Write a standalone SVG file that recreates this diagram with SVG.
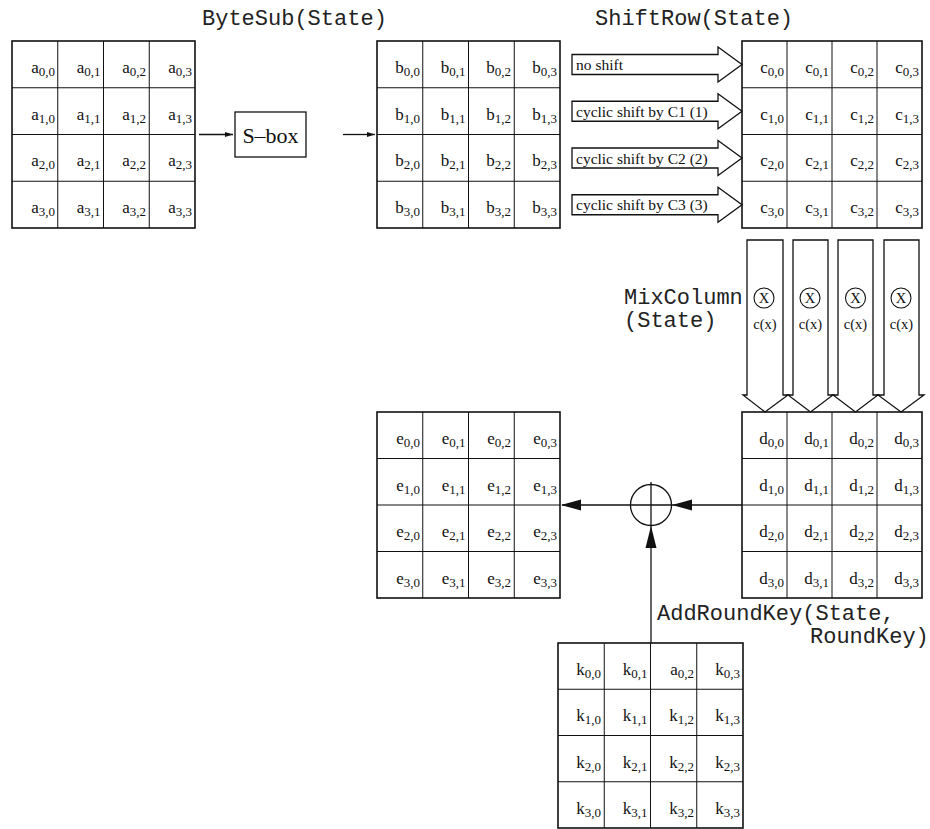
<svg xmlns="http://www.w3.org/2000/svg" width="930" height="829" viewBox="0 0 930 829">
<defs>
<style>
.c{font-family:"Liberation Serif","Times New Roman",serif;font-size:17px;text-anchor:end;fill:#111}
.s{font-size:13px}
.mono{font-family:"Liberation Mono","Courier New",monospace;font-size:22px;fill:#222}
.lbl{font-family:"Liberation Serif","Times New Roman",serif;font-size:15.5px;fill:#111}
.cx{font-family:"Liberation Serif","Times New Roman",serif;font-size:14.5px;fill:#111;text-anchor:middle}
.g{fill:#fff;stroke:#111;stroke-width:1.6}
.gl{fill:none;stroke:#111;stroke-width:1}
.blk{fill:#fff;stroke:#111;stroke-width:1.3;stroke-linejoin:miter}
.ln{fill:none;stroke:#111;stroke-width:1.3}
</style>
<marker id="sm" viewBox="0 0 10 6" refX="10" refY="3" markerWidth="8" markerHeight="5" markerUnits="userSpaceOnUse" orient="auto">
<path d="M0,0 L10,3 L0,6 z" fill="#111"/>
</marker>
</defs>
<rect width="930" height="829" fill="#fff"/>

<text class="mono" x="202" y="25">ByteSub(State)</text>
<text class="mono" x="595" y="25">ShiftRow(State)</text>

<g id="gridA">
<rect class="g" x="12" y="41" width="183" height="187"/>
<path class="gl" d="M57.75 41V228M103.5 41V228M149.25 41V228M12 87.75H195M12 134.5H195M12 181.25H195"/>
<text class="c" x="55" y="73">a<tspan class="s" dy="3">0,0</tspan></text>
<text class="c" x="100.5" y="73">a<tspan class="s" dy="3">0,1</tspan></text>
<text class="c" x="146" y="73">a<tspan class="s" dy="3">0,2</tspan></text>
<text class="c" x="192" y="73">a<tspan class="s" dy="3">0,3</tspan></text>
<text class="c" x="55" y="120">a<tspan class="s" dy="3">1,0</tspan></text>
<text class="c" x="100.5" y="120">a<tspan class="s" dy="3">1,1</tspan></text>
<text class="c" x="146" y="120">a<tspan class="s" dy="3">1,2</tspan></text>
<text class="c" x="192" y="120">a<tspan class="s" dy="3">1,3</tspan></text>
<text class="c" x="55" y="166">a<tspan class="s" dy="3">2,0</tspan></text>
<text class="c" x="100.5" y="166">a<tspan class="s" dy="3">2,1</tspan></text>
<text class="c" x="146" y="166">a<tspan class="s" dy="3">2,2</tspan></text>
<text class="c" x="192" y="166">a<tspan class="s" dy="3">2,3</tspan></text>
<text class="c" x="55" y="213">a<tspan class="s" dy="3">3,0</tspan></text>
<text class="c" x="100.5" y="213">a<tspan class="s" dy="3">3,1</tspan></text>
<text class="c" x="146" y="213">a<tspan class="s" dy="3">3,2</tspan></text>
<text class="c" x="192" y="213">a<tspan class="s" dy="3">3,3</tspan></text>
</g>

<g id="sbox">
<rect class="g" x="235" y="112" width="71" height="45" style="stroke-width:1.3"/>
<text x="270.5" y="142.5" style="font-family:'Liberation Serif','Times New Roman',serif;font-size:22px;text-anchor:middle;fill:#111">S–box</text>
</g>

<g id="gridB">
<rect class="g" x="377" y="41" width="183" height="187"/>
<path class="gl" d="M422.75 41V228M468.5 41V228M514.25 41V228M377 87.75H560M377 134.5H560M377 181.25H560"/>
<text class="c" x="420" y="73">b<tspan class="s" dy="3">0,0</tspan></text>
<text class="c" x="465.5" y="73">b<tspan class="s" dy="3">0,1</tspan></text>
<text class="c" x="511" y="73">b<tspan class="s" dy="3">0,2</tspan></text>
<text class="c" x="557" y="73">b<tspan class="s" dy="3">0,3</tspan></text>
<text class="c" x="420" y="120">b<tspan class="s" dy="3">1,0</tspan></text>
<text class="c" x="465.5" y="120">b<tspan class="s" dy="3">1,1</tspan></text>
<text class="c" x="511" y="120">b<tspan class="s" dy="3">1,2</tspan></text>
<text class="c" x="557" y="120">b<tspan class="s" dy="3">1,3</tspan></text>
<text class="c" x="420" y="166">b<tspan class="s" dy="3">2,0</tspan></text>
<text class="c" x="465.5" y="166">b<tspan class="s" dy="3">2,1</tspan></text>
<text class="c" x="511" y="166">b<tspan class="s" dy="3">2,2</tspan></text>
<text class="c" x="557" y="166">b<tspan class="s" dy="3">2,3</tspan></text>
<text class="c" x="420" y="213">b<tspan class="s" dy="3">3,0</tspan></text>
<text class="c" x="465.5" y="213">b<tspan class="s" dy="3">3,1</tspan></text>
<text class="c" x="511" y="213">b<tspan class="s" dy="3">3,2</tspan></text>
<text class="c" x="557" y="213">b<tspan class="s" dy="3">3,3</tspan></text>
</g>

<g id="gridC">
<rect class="g" x="742" y="41" width="180" height="187"/>
<path class="gl" d="M787 41V228M832 41V228M877 41V228M742 87.75H922M742 134.5H922M742 181.25H922"/>
<text class="c" x="784" y="73">c<tspan class="s" dy="3">0,0</tspan></text>
<text class="c" x="829" y="73">c<tspan class="s" dy="3">0,1</tspan></text>
<text class="c" x="874" y="73">c<tspan class="s" dy="3">0,2</tspan></text>
<text class="c" x="919" y="73">c<tspan class="s" dy="3">0,3</tspan></text>
<text class="c" x="784" y="120">c<tspan class="s" dy="3">1,0</tspan></text>
<text class="c" x="829" y="120">c<tspan class="s" dy="3">1,1</tspan></text>
<text class="c" x="874" y="120">c<tspan class="s" dy="3">1,2</tspan></text>
<text class="c" x="919" y="120">c<tspan class="s" dy="3">1,3</tspan></text>
<text class="c" x="784" y="166">c<tspan class="s" dy="3">2,0</tspan></text>
<text class="c" x="829" y="166">c<tspan class="s" dy="3">2,1</tspan></text>
<text class="c" x="874" y="166">c<tspan class="s" dy="3">2,2</tspan></text>
<text class="c" x="919" y="166">c<tspan class="s" dy="3">2,3</tspan></text>
<text class="c" x="784" y="213">c<tspan class="s" dy="3">3,0</tspan></text>
<text class="c" x="829" y="213">c<tspan class="s" dy="3">3,1</tspan></text>
<text class="c" x="874" y="213">c<tspan class="s" dy="3">3,2</tspan></text>
<text class="c" x="919" y="213">c<tspan class="s" dy="3">3,3</tspan></text>
</g>

<g id="gridD">
<rect class="g" x="742" y="412" width="180" height="186"/>
<path class="gl" d="M787 412V598M832 412V598M877 412V598M742 458.5H922M742 505H922M742 551.5H922"/>
<text class="c" x="784" y="444">d<tspan class="s" dy="3">0,0</tspan></text>
<text class="c" x="829" y="444">d<tspan class="s" dy="3">0,1</tspan></text>
<text class="c" x="874" y="444">d<tspan class="s" dy="3">0,2</tspan></text>
<text class="c" x="919" y="444">d<tspan class="s" dy="3">0,3</tspan></text>
<text class="c" x="784" y="491">d<tspan class="s" dy="3">1,0</tspan></text>
<text class="c" x="829" y="491">d<tspan class="s" dy="3">1,1</tspan></text>
<text class="c" x="874" y="491">d<tspan class="s" dy="3">1,2</tspan></text>
<text class="c" x="919" y="491">d<tspan class="s" dy="3">1,3</tspan></text>
<text class="c" x="784" y="537">d<tspan class="s" dy="3">2,0</tspan></text>
<text class="c" x="829" y="537">d<tspan class="s" dy="3">2,1</tspan></text>
<text class="c" x="874" y="537">d<tspan class="s" dy="3">2,2</tspan></text>
<text class="c" x="919" y="537">d<tspan class="s" dy="3">2,3</tspan></text>
<text class="c" x="784" y="584">d<tspan class="s" dy="3">3,0</tspan></text>
<text class="c" x="829" y="584">d<tspan class="s" dy="3">3,1</tspan></text>
<text class="c" x="874" y="584">d<tspan class="s" dy="3">3,2</tspan></text>
<text class="c" x="919" y="584">d<tspan class="s" dy="3">3,3</tspan></text>
</g>

<g id="gridE">
<rect class="g" x="377" y="412" width="183" height="186"/>
<path class="gl" d="M422.75 412V598M468.5 412V598M514.25 412V598M377 458.5H560M377 505H560M377 551.5H560"/>
<text class="c" x="420" y="444">e<tspan class="s" dy="3">0,0</tspan></text>
<text class="c" x="465.5" y="444">e<tspan class="s" dy="3">0,1</tspan></text>
<text class="c" x="511" y="444">e<tspan class="s" dy="3">0,2</tspan></text>
<text class="c" x="557" y="444">e<tspan class="s" dy="3">0,3</tspan></text>
<text class="c" x="420" y="491">e<tspan class="s" dy="3">1,0</tspan></text>
<text class="c" x="465.5" y="491">e<tspan class="s" dy="3">1,1</tspan></text>
<text class="c" x="511" y="491">e<tspan class="s" dy="3">1,2</tspan></text>
<text class="c" x="557" y="491">e<tspan class="s" dy="3">1,3</tspan></text>
<text class="c" x="420" y="537">e<tspan class="s" dy="3">2,0</tspan></text>
<text class="c" x="465.5" y="537">e<tspan class="s" dy="3">2,1</tspan></text>
<text class="c" x="511" y="537">e<tspan class="s" dy="3">2,2</tspan></text>
<text class="c" x="557" y="537">e<tspan class="s" dy="3">2,3</tspan></text>
<text class="c" x="420" y="584">e<tspan class="s" dy="3">3,0</tspan></text>
<text class="c" x="465.5" y="584">e<tspan class="s" dy="3">3,1</tspan></text>
<text class="c" x="511" y="584">e<tspan class="s" dy="3">3,2</tspan></text>
<text class="c" x="557" y="584">e<tspan class="s" dy="3">3,3</tspan></text>
</g>

<g id="gridK">
<rect class="g" x="558" y="643" width="185" height="185"/>
<path class="gl" d="M604.25 643V828M650.5 643V828M696.75 643V828M558 689.25H743M558 735.5H743M558 781.75H743"/>
<text class="c" x="601" y="675">k<tspan class="s" dy="3">0,0</tspan></text>
<text class="c" x="647.5" y="675">k<tspan class="s" dy="3">0,1</tspan></text>
<text class="c" x="694" y="675">a<tspan class="s" dy="3">0,2</tspan></text>
<text class="c" x="740" y="675">k<tspan class="s" dy="3">0,3</tspan></text>
<text class="c" x="601" y="721">k<tspan class="s" dy="3">1,0</tspan></text>
<text class="c" x="647.5" y="721">k<tspan class="s" dy="3">1,1</tspan></text>
<text class="c" x="694" y="721">k<tspan class="s" dy="3">1,2</tspan></text>
<text class="c" x="740" y="721">k<tspan class="s" dy="3">1,3</tspan></text>
<text class="c" x="601" y="768">k<tspan class="s" dy="3">2,0</tspan></text>
<text class="c" x="647.5" y="768">k<tspan class="s" dy="3">2,1</tspan></text>
<text class="c" x="694" y="768">k<tspan class="s" dy="3">2,2</tspan></text>
<text class="c" x="740" y="768">k<tspan class="s" dy="3">2,3</tspan></text>
<text class="c" x="601" y="814">k<tspan class="s" dy="3">3,0</tspan></text>
<text class="c" x="647.5" y="814">k<tspan class="s" dy="3">3,1</tspan></text>
<text class="c" x="694" y="814">k<tspan class="s" dy="3">3,2</tspan></text>
<text class="c" x="740" y="814">k<tspan class="s" dy="3">3,3</tspan></text>
</g>

<g id="connectors">
<line class="ln" x1="199" y1="134.5" x2="233" y2="134.5" marker-end="url(#sm)"/>
<line class="ln" x1="343" y1="134.5" x2="375" y2="134.5" marker-end="url(#sm)"/>

<g id="shiftArrows">
<polygon class="blk" points="572,54.5 718,54.5 718,47 742,64.5 718,82 718,74.5 572,74.5"/>
<polygon class="blk" points="572,101.25 718,101.25 718,93.75 742,111.25 718,128.75 718,121.25 572,121.25"/>
<polygon class="blk" points="572,148 718,148 718,140.5 742,158 718,175.5 718,168 572,168"/>
<polygon class="blk" points="572,194.75 718,194.75 718,187.25 742,204.75 718,222.25 718,214.75 572,214.75"/>
<text class="lbl" x="576" y="70">no shift</text>
<text class="lbl" x="576" y="116.75">cyclic shift by C1 (1)</text>
<text class="lbl" x="576" y="163.5">cyclic shift by C2 (2)</text>
<text class="lbl" x="576" y="210.25">cyclic shift by C3 (3)</text>
</g>

<g id="mixArrows">
<polygon class="blk" points="747,240 783,240 783,395 788,395 765,412 743,395 747,395"/>
<polygon class="blk" points="793,240 828,240 828,395 833,395 810.5,412 788,395 793,395"/>
<polygon class="blk" points="838,240 873,240 873,395 878,395 855.5,412 833,395 838,395"/>
<polygon class="blk" points="884,240 919,240 919,395 924,395 901,412 878,395 884,395"/>
<circle class="ln" cx="764" cy="298" r="10" style="stroke-width:1.1"/>
<circle class="ln" cx="810" cy="298" r="10" style="stroke-width:1.1"/>
<circle class="ln" cx="855.5" cy="298" r="10" style="stroke-width:1.1"/>
<circle class="ln" cx="901" cy="298" r="10" style="stroke-width:1.1"/>
<text class="cx" x="764" y="303">X</text>
<text class="cx" x="810" y="303">X</text>
<text class="cx" x="855.5" y="303">X</text>
<text class="cx" x="901" y="303">X</text>
<text class="cx" x="765" y="329">c(x)</text>
<text class="cx" x="810.5" y="329">c(x)</text>
<text class="cx" x="855.5" y="329">c(x)</text>
<text class="cx" x="901.5" y="329">c(x)</text>
</g>

<g id="xor">
<line class="ln" x1="742" y1="505" x2="562" y2="505"/>
<line class="ln" x1="651" y1="643" x2="651" y2="482"/>
<circle class="ln" cx="651" cy="505" r="20.5"/>
<polygon points="672,505 692,499.5 692,510.5" fill="#111"/>
<polygon points="561,505 581,499.5 581,510.5" fill="#111"/>
<polygon points="651,526 645.5,548 656.5,548" fill="#111"/>
</g>
</g>

<text class="mono" x="624" y="304">MixColumn</text>
<text class="mono" x="624" y="327">(State)</text>
<text class="mono" x="657" y="620">AddRoundKey(State,</text>
<text class="mono" x="810" y="643">RoundKey)</text>
</svg>
